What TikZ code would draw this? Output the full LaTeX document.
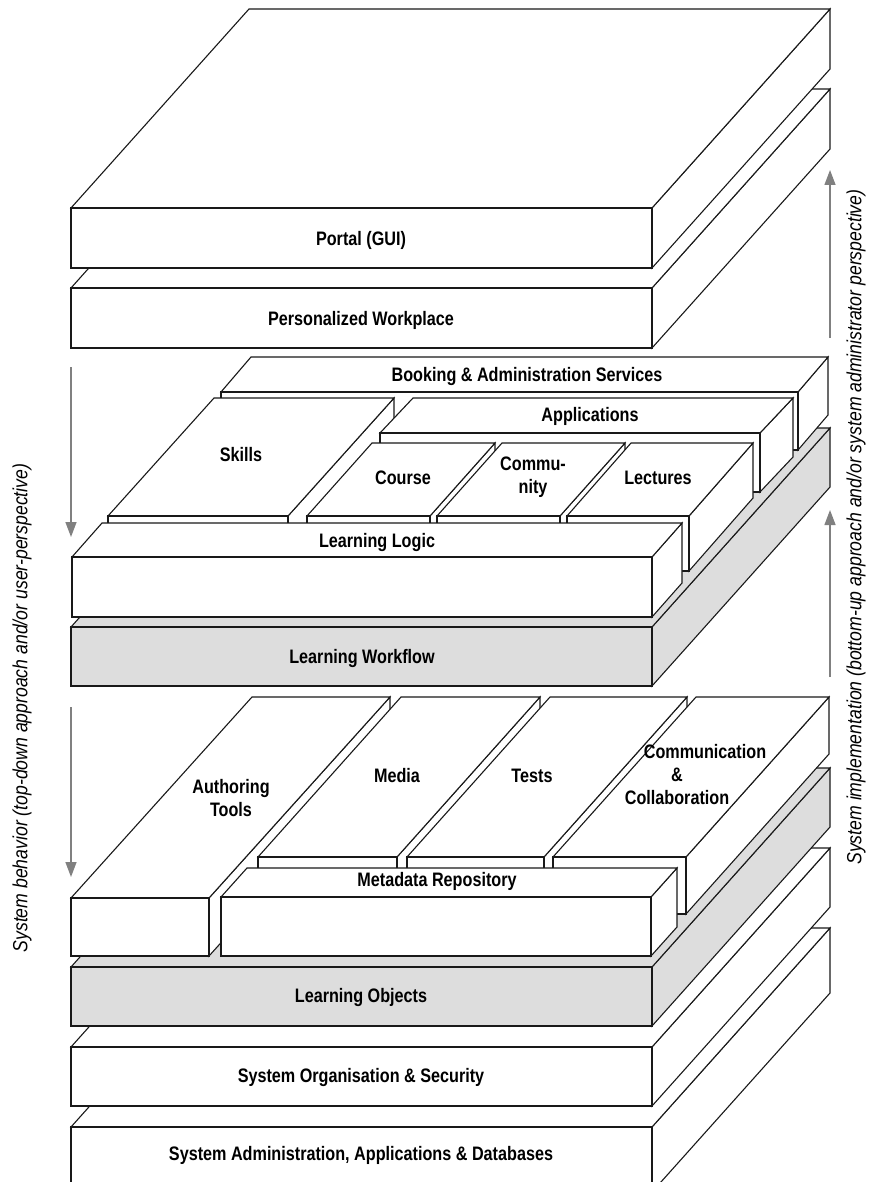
\documentclass[tikz,border=0pt]{standalone}
\usepackage{fontspec}
\setmainfont{Liberation Sans}
\newfontfamily\narrowfont[FakeStretch=0.83]{Liberation Sans}
\newfontfamily\sidefont[FakeStretch=0.86]{Liberation Sans}
\usetikzlibrary{arrows.meta}
\definecolor{lgray}{RGB}{221,221,221}
\definecolor{arrgray}{RGB}{128,128,128}
% cuboid: front face (x1,y1)-(x2,y2), depth offset (dx,dy), fill
\newcommand{\cub}[7]{%
  \filldraw[boxline,fill=#7] (#3,#2) -- (#3+#5,#2-#6) -- (#3+#5,#4-#6) -- (#3,#4) -- cycle;
  \filldraw[boxline,fill=#7] (#1,#2) -- (#3,#2) -- (#3+#5,#2-#6) -- (#1+#5,#2-#6) -- cycle;
  \filldraw[boxline,fill=#7] (#1,#2) rectangle (#3,#4);
}
\begin{document}
\begin{tikzpicture}[x=1pt,y=-1pt,
  boxline/.style={draw=black!90,line width=1.1pt,line join=miter},
  lbl/.style={font=\narrowfont\fontsize{19.5}{23}\selectfont\bfseries,inner sep=0pt,align=center},
  side/.style={font=\sidefont\fontsize{20.5}{22}\selectfont\itshape,inner sep=0pt,rotate=90},
  arr/.style={draw=arrgray,line width=1.4pt,-{Triangle[length=15pt,width=11pt]}}]
\useasboundingbox (0,0) rectangle (889,1182);
% lower stack
\cub{71}{1127}{652}{1192}{178}{199}{white}
\cub{71}{1047}{652}{1106}{178}{199}{white}
\cub{71}{967}{652}{1026}{178}{199}{lgray}
\cub{71}{898}{209}{956}{181}{201}{white}
\cub{258}{857}{397}{914}{143}{160}{white}
\cub{407}{857}{544}{914}{143}{160}{white}
\cub{553}{857}{686}{914}{143}{160}{white}
\cub{221}{897}{651}{956}{26}{29}{white}
% middle stack
\cub{71}{627}{652}{686}{178}{199}{lgray}
\cub{221}{392}{798}{450}{30}{35}{white}
\cub{108}{516}{288}{575}{106}{118}{white}
\cub{380}{433}{760}{492}{33}{35}{white}
\cub{307}{516}{430}{571}{65}{73}{white}
\cub{437}{516}{560}{571}{65}{73}{white}
\cub{567}{516}{689}{571}{64}{73}{white}
\cub{72}{557}{652}{617}{30}{34}{white}
% top stack
\cub{71}{288}{652}{348}{178}{199}{white}
\cub{71}{208}{652}{268}{178}{199}{white}
% labels
\node[lbl,anchor=base] (portal) at (361,245) {Portal (GUI)};
\node[lbl,anchor=base] (pw) at (361,325) {Personalized Workplace};
\node[lbl,anchor=base] (book) at (527,381) {Booking \& Administration Services};
\node[lbl,anchor=base] (apps) at (590,421) {Applications};
\node[lbl,anchor=base] (skills) at (241,461) {Skills};
\node[lbl,anchor=base] (course) at (403,484) {Course};
\node[lbl] (comm) at (533,477) {Commu-\\nity};
\node[lbl,anchor=base] (lect) at (658,484) {Lectures};
\node[lbl,anchor=base] (ll) at (377,547) {Learning Logic};
\node[lbl,anchor=base] (lw) at (362,663) {Learning Workflow};
\node[lbl] (auth) at (231,798) {Authoring\\Tools};
\node[lbl,anchor=base] (media) at (397,782) {Media};
\node[lbl,anchor=base] (tests) at (532,782) {Tests};
\node[lbl] (cc) at (677,775) {\hspace*{56pt}Communication\\\&\\Collaboration};
\node[lbl,anchor=base] (mr) at (437,886) {Metadata Repository};
\node[lbl,anchor=base] (lo) at (361,1002) {Learning Objects};
\node[lbl,anchor=base] (sos) at (361,1082) {System Organisation \& Security};
\node[lbl,anchor=base] (sa) at (361,1160) {System Administration, Applications \& Databases};
% side texts
\node[side] (behav) at (22,708) {System behavior (top-down approach and/or user-perspective)};
\node[side] (impl) at (856,527) {System implementation (bottom-up approach and/or system administrator perspective)};
% arrows
\coordinate (la1) at (71,367); \coordinate (lb1) at (71,537);
\coordinate (la2) at (71,707); \coordinate (lb2) at (71,877);
\coordinate (ra1) at (830,338); \coordinate (rb1) at (830,170);
\coordinate (ra2) at (830,677); \coordinate (rb2) at (830,510);
\draw[arr] (la1) -- (lb1);
\draw[arr] (la2) -- (lb2);
\draw[arr] (ra1) -- (rb1);
\draw[arr] (ra2) -- (rb2);
\end{tikzpicture}
\end{document}
